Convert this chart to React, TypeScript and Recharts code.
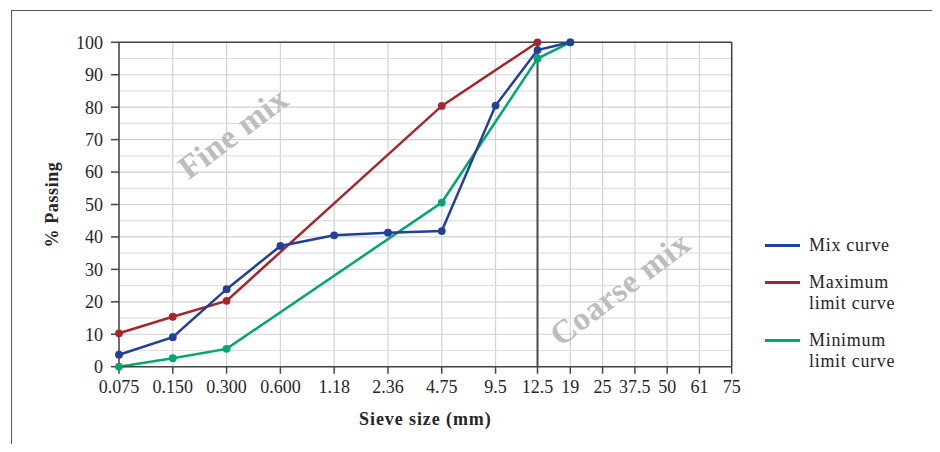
import React from "react";
import {
  LineChart,
  Line,
  XAxis,
  YAxis,
  CartesianGrid,
  ReferenceLine,
  ReferenceDot,
  Label,
} from "recharts";

// sieve sizes (mm) and where each one sits on the horizontal axis
const sieveLabels = ["0.075", "0.150", "0.300", "0.600", "1.18", "2.36", "4.75", "9.5", "12.5", "19", "25", "37.5", "50", "61", "75"];
const sievePos = [0, 1, 2, 3, 4, 5, 6, 7, 7.78, 8.39, 8.99, 9.59, 10.19, 10.79, 11.39];

// % passing, one value per sieve (null = no point at that sieve)
const mixCurve = [3.7, 9.1, 23.9, 37.2, 40.5, 41.3, 41.8, 80.5, 97.6, 100];
const maxLimit = [10.3, 15.4, 20.3, null, null, null, 80.4, null, 100, null];
const minLimit = [0, 2.6, 5.5, null, null, null, 50.6, null, 95, 100];

const yTicks = [0, 10, 20, 30, 40, 50, 60, 70, 80, 90, 100];
const yMinor = [5, 15, 25, 35, 45, 55, 65, 75, 85, 95];

const series = [
  { key: "mix", name: ["Mix curve"], color: "#22409a" },
  { key: "max", name: ["Maximum", "limit curve"], color: "#a4282b" },
  { key: "min", name: ["Minimum", "limit curve"], color: "#00a66f" },
];

const data = mixCurve.map((v, i) => ({
  pos: sievePos[i],
  mix: v,
  max: maxLimit[i],
  min: minLimit[i],
}));

const FONT = '"Liberation Serif", "Times New Roman", serif';
const TEXT = "#262626";
const AXIS = "#454545";

const Watermark = (text: string) => (props: any) => {
  const vb = props.viewBox;
  const cx = vb.x + vb.width / 2;
  const cy = vb.y + vb.height / 2;
  return (
    <text
      x={cx}
      y={cy}
      transform={`rotate(-37 ${cx} ${cy})`}
      textAnchor="middle"
      dominantBaseline="central"
      fill="#bdbdbd"
      fontWeight="bold"
      fontSize={33}
      letterSpacing={0.5}
      fontFamily={FONT}
    >
      {text}
    </text>
  );
};

export default function App() {
  const xMin = sievePos[0];
  const xMax = sievePos[sievePos.length - 1];

  return (
    <div
      style={{
        position: "relative",
        width: 940,
        height: 452,
        margin: -8,
        overflow: "hidden",
        background: "#fff",
        fontFamily: FONT,
      }}
    >
      <div
        style={{
          position: "absolute",
          left: 11,
          top: 10,
          width: 921,
          height: 480,
          border: "1px solid #555",
        }}
      />
      <div style={{ position: "absolute", left: 0, top: 0 }}>
        <LineChart
          width={940}
          height={452}
          data={data}
          margin={{ top: 42.3, right: 208.3, bottom: 55.3, left: 59 }}
        >
          <CartesianGrid stroke="#d2d2d2" strokeWidth={1.2} />
          {yMinor.map((v) => (
            <ReferenceLine key={v} y={v} stroke="#e0e0e0" strokeWidth={1.2} />
          ))}
          <XAxis
            type="number"
            dataKey="pos"
            domain={[xMin, xMax]}
            ticks={sievePos}
            interval={0}
            tickFormatter={(v: number) => sieveLabels[sievePos.indexOf(v)]}
            tickSize={7}
            tickMargin={7}
            height={30}
            axisLine={{ stroke: AXIS, strokeWidth: 1.5 }}
            tickLine={{ stroke: AXIS, strokeWidth: 1.5 }}
            tick={{ fill: TEXT, fontSize: 18 }}
          >
            <Label
              value="Sieve size (mm)"
              position="bottom"
              offset={16}
              style={{ fontWeight: "bold", fontSize: 18, fill: TEXT, letterSpacing: 0.9 }}
            />
          </XAxis>
          <YAxis
            type="number"
            domain={[0, 100]}
            ticks={yTicks}
            interval={0}
            width={60}
            tickSize={8}
            tickMargin={8}
            axisLine={{ stroke: AXIS, strokeWidth: 1.5 }}
            tickLine={{ stroke: AXIS, strokeWidth: 1.5 }}
            tick={{ fill: TEXT, fontSize: 18 }}
          >
            <Label
              content={(props: any) => {
                const vb = props.viewBox;
                const cx = vb.x - 7;
                const cy = vb.y + vb.height / 2;
                return (
                  <text
                    x={cx}
                    y={cy}
                    transform={`rotate(-90 ${cx} ${cy})`}
                    textAnchor="middle"
                    dominantBaseline="central"
                    fill={TEXT}
                    fontWeight="bold"
                    fontSize={18}
                    letterSpacing={0.6}
                    fontFamily={FONT}
                  >
                    % Passing
                  </text>
                );
              }}
            />
          </YAxis>
          <ReferenceLine y={100} stroke={AXIS} strokeWidth={1.5} />
          <ReferenceLine x={xMax} stroke={AXIS} strokeWidth={1.5} />
          <ReferenceLine x={sievePos[8]} stroke="#4a4a4a" strokeWidth={2} />
          <ReferenceDot
            x={2.12}
            y={72}
            r={1}
            fill="none"
            stroke="none"
            ifOverflow="visible"
            label={{ content: Watermark("Fine mix") }}
          />
          <ReferenceDot
            x={9.31}
            y={24}
            r={1}
            fill="none"
            stroke="none"
            ifOverflow="visible"
            label={{ content: Watermark("Coarse mix") }}
          />
          {[series[1], series[2], series[0]].map((s) => (
            <Line
              key={s.key}
              dataKey={s.key}
              type="linear"
              stroke={s.color}
              strokeWidth={2.5}
              connectNulls
              dot={{ r: 3.9, fill: s.color, stroke: s.color, strokeWidth: 0 }}
              activeDot={false}
              isAnimationActive={false}
            />
          ))}
        </LineChart>
      </div>
      <div style={{ position: "absolute", left: 765, top: 234.5, color: TEXT, fontSize: 18, lineHeight: "21px", letterSpacing: 0.7 }}>
        {series.map((s) => (
          <div key={s.key} style={{ display: "flex", alignItems: "flex-start", marginBottom: 16 }}>
            <div style={{ width: 35, height: 2.5, background: s.color, marginTop: 9.5, marginRight: 9 }} />
            <div>
              {s.name.map((n) => (
                <div key={n}>{n}</div>
              ))}
            </div>
          </div>
        ))}
      </div>
    </div>
  );
}
